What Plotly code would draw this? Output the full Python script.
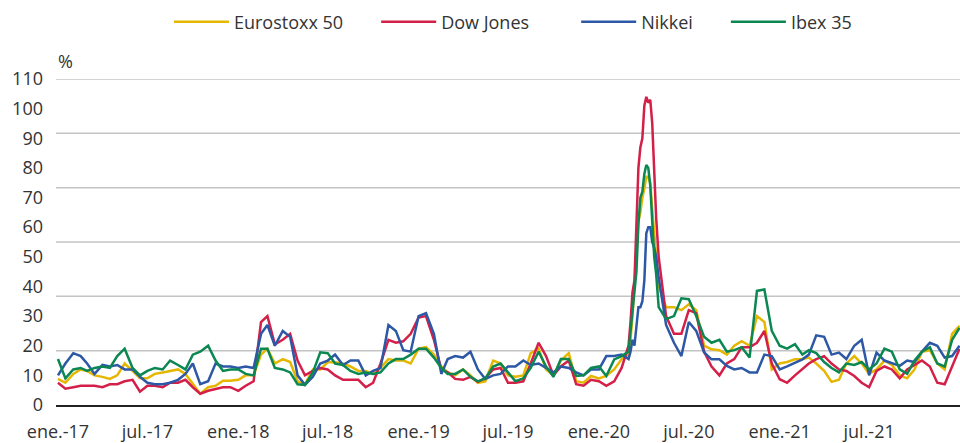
import plotly.graph_objects as go

# ---------------- data ----------------
def build_dates():
    out = []
    for y in range(2017, 2022):
        for mo in range(1, 13):
            if (y, mo) == (2020, 3):
                days = [1, 5, 9, 13, 17, 21, 25, 29]
            elif (y, mo) == (2020, 4):
                days = [2, 6, 10, 14, 18, 22, 26]
            else:
                days = [1, 16]
            for d in days:
                out.append(f"{y}-{mo:02d}-{d:02d}")
    out.append("2021-12-31")
    return out

dates = build_dates()

eurostoxx = [
    8.8, 7.5, 10.5, 12, 11.5, 10, 9.5, 8.8, 10, 14, 11.5, 9, 9, 10.5, 11, 11.5, 12, 10.5, 7, 3.8,
    6, 6.5, 8.2, 8.2, 8.5, 10, 10, 17, 19, 14, 15.5, 14.5, 8, 7, 12, 12, 14.4, 14.4, 14, 13,
    11.5, 11.5, 10.5, 12.5, 15.5, 15, 15, 14, 19, 19.5, 17, 13, 11, 10, 12, 10, 7.5, 8, 15, 14,
    10, 9.5, 10, 17.5, 19, 12, 10, 15, 17.5, 8, 7.5, 9.8, 9, 9.8, 12, 15.5,
    17, 22, 30, 40, 50, 62, 65, 70, 73, 77, 77, 75, 66, 57, 50,
    40, 33, 33, 32, 34, 32, 20, 18.8, 18.5, 17, 20, 21.5, 20, 30, 28, 12, 14, 14.5, 15.4, 15.5,
    16, 14, 11.5, 7.8, 8.5, 14, 16.5, 14, 10.5, 12, 15, 13.5, 10, 9, 12, 18, 18.5, 14, 12, 24,
    26.7,
]

dow_jones = [
    7.5, 5.5, 6, 6.5, 6.5, 6.5, 6, 7, 7, 8, 8.5, 4.5, 6.5, 6.5, 6, 7.5, 7.5, 8.5, 6, 3.8,
    4.8, 5.5, 6, 6, 4.8, 6.5, 8, 28, 30, 20.5, 22, 24, 15, 10, 11.5, 12.5, 12, 10, 8.5, 8.5,
    8.5, 6, 7.5, 14, 22, 21, 21.5, 24, 29.5, 30, 22, 12, 11, 8.8, 8.5, 9.5, 7.8, 9, 12, 12.5,
    7.5, 7.5, 8, 14, 21, 16.5, 10, 13, 15, 7, 6.5, 8.5, 8, 6.5, 8, 12.5,
    20, 28, 38, 42, 60, 80, 87, 90, 101, 104, 102, 103, 95, 76, 63,
    50, 30, 24, 24, 32, 31, 18, 13, 10, 14, 15.5, 19.5, 19.5, 21, 25, 14, 8.7, 7.5, 10, 12,
    14, 15.5, 16.5, 14, 12, 11.5, 9.8, 7.5, 6, 11.5, 13, 12, 9, 12, 13.5, 15, 13, 7.5, 7, 13,
    19,
]

nikkei = [
    10, 14, 17.5, 16.5, 14, 10.5, 13.5, 13, 13.5, 12, 12, 9.5, 7.5, 7, 7, 7.5, 8.5, 10.5, 14, 7,
    8, 14, 13, 13, 12.5, 13, 12.5, 24, 27, 20, 25, 23, 10, 6.8, 9.5, 14, 15, 17, 13.5, 15,
    15, 10, 11.5, 12.5, 27, 25, 18.5, 18, 30, 31, 24, 10.5, 15.5, 16.5, 16, 18, 12, 8.8, 10, 10.5,
    13, 13, 15, 13.5, 14, 12.5, 11, 13, 12.5, 11, 10, 12, 12, 16.5, 16.5, 17,
    15.5, 18, 22, 20, 28, 33, 33, 35, 42, 58, 60, 60, 55, 53, 50,
    43, 27, 21, 16.5, 28, 25, 17.7, 15.4, 15.4, 13.2, 12, 12.5, 11, 11, 17, 16.5, 12, 13, 14.3, 15.4,
    17, 23.5, 23, 17, 17.7, 15.5, 20, 22, 10, 17.7, 15, 14, 13.2, 15, 14.5, 18, 21, 20, 16, 16.5,
    20,
]

ibex35 = [
    15.5, 9, 12, 12.5, 11.5, 12.5, 13, 12.5, 16.5, 19, 12.5, 10, 11.5, 12.5, 12, 15, 13.5, 12, 17, 18,
    20, 15, 11.5, 12, 12, 10.5, 10, 19, 19, 12.5, 12, 11, 7, 6.8, 11, 17.8, 17.5, 14, 13.5, 11.5,
    10.5, 11, 10.5, 11, 14, 15.5, 15.5, 17, 19, 19, 16, 12.5, 10.5, 10.5, 12, 9.5, 8, 9, 13, 14,
    11, 8, 9, 12.5, 18, 13, 9.5, 15.5, 15.5, 9.8, 10, 12.5, 13, 9.8, 15.4, 16.5,
    18, 25, 33, 38, 45, 61, 70, 72, 78, 81, 80, 74, 62, 50, 44,
    33, 29, 30, 36, 35.7, 30, 23, 21, 22, 18, 18.5, 19.5, 16, 38.5, 39, 25, 20, 19, 20.5, 17,
    18.5, 17.5, 14.5, 12.5, 11, 14, 13.5, 14.5, 12, 14, 19, 18, 12, 10.5, 15, 18, 19.5, 14, 13, 22,
    26,
]

series_names = ["Eurostoxx 50", "Dow Jones", "Nikkei", "Ibex 35"]
series_colors = ["#E6B700", "#D41F48", "#2D58A6", "#0B8752"]
legend_pad = [6, 9, 6, 0]   # trailing non-breaking spaces (legend spacing)

x_tick_vals = ["2017-01-01", "2017-07-01", "2018-01-01", "2018-07-01", "2019-01-01",
               "2019-07-01", "2020-01-01", "2020-07-01", "2021-01-01", "2021-07-01"]
x_tick_text = ["ene.-17", "jul.-17", "ene.-18", "jul.-18", "ene.-19",
               "jul.-19", "ene.-20", "jul.-20", "ene.-21", "jul.-21"]
y_tick_vals = list(range(0, 111, 10))

Y_MAX = 110
GRID_DIVISIONS = 6

# ---------------- figure ----------------
FONT = "Open Sans, Noto Sans, sans-serif"
TXT = "#333333"

fig = go.Figure()
for name, vals, col, pad in zip(series_names,
                                [eurostoxx, dow_jones, nikkei, ibex35],
                                series_colors, legend_pad):
    fig.add_trace(go.Scatter(x=dates, y=vals, mode="lines", name=name + "\u00a0" * pad,
                             line=dict(color=col, width=2.5)))

shapes = []
for k in range(1, GRID_DIVISIONS + 1):
    shapes.append(dict(type="line", xref="paper", x0=0, x1=1, yref="y",
                       y0=Y_MAX * k / GRID_DIVISIONS, y1=Y_MAX * k / GRID_DIVISIONS,
                       line=dict(color="#C4C4C4", width=1.5), layer="below"))

fig.update_layout(
    width=960, height=443,
    margin=dict(l=56, r=0, t=79, b=38),
    paper_bgcolor="white", plot_bgcolor="white",
    font=dict(family=FONT, size=18, color=TXT),
    shapes=shapes,
    showlegend=True,
    legend=dict(orientation="h", xref="container", yref="container",
                x=0.176, xanchor="left", y=0.95, yanchor="middle",
                font=dict(size=18, color=TXT), itemwidth=55,
                traceorder="normal"),
    xaxis=dict(type="date", range=["2016-12-28", "2022-01-01"],
               tickvals=x_tick_vals, ticktext=x_tick_text,
               showgrid=False, zeroline=False, showline=True,
               linecolor="#222222", linewidth=1.5, ticks="",
               tickfont=dict(size=18, color=TXT), ticklabelstandoff=10),
    yaxis=dict(range=[0, Y_MAX], tickvals=y_tick_vals, showgrid=False,
               zeroline=False, showline=False, ticks="",
               tickfont=dict(size=18, color=TXT), ticklabelstandoff=12),
    annotations=[dict(text="%", xref="paper", yref="paper", x=0, y=1,
                      xanchor="left", yanchor="bottom", yshift=4, showarrow=False,
                      font=dict(size=18, color=TXT))],
)

fig.write_html("out.html", config={"displayModeBar": False},
               post_script="document.body.style.margin='0';document.body.style.overflow='hidden';")
